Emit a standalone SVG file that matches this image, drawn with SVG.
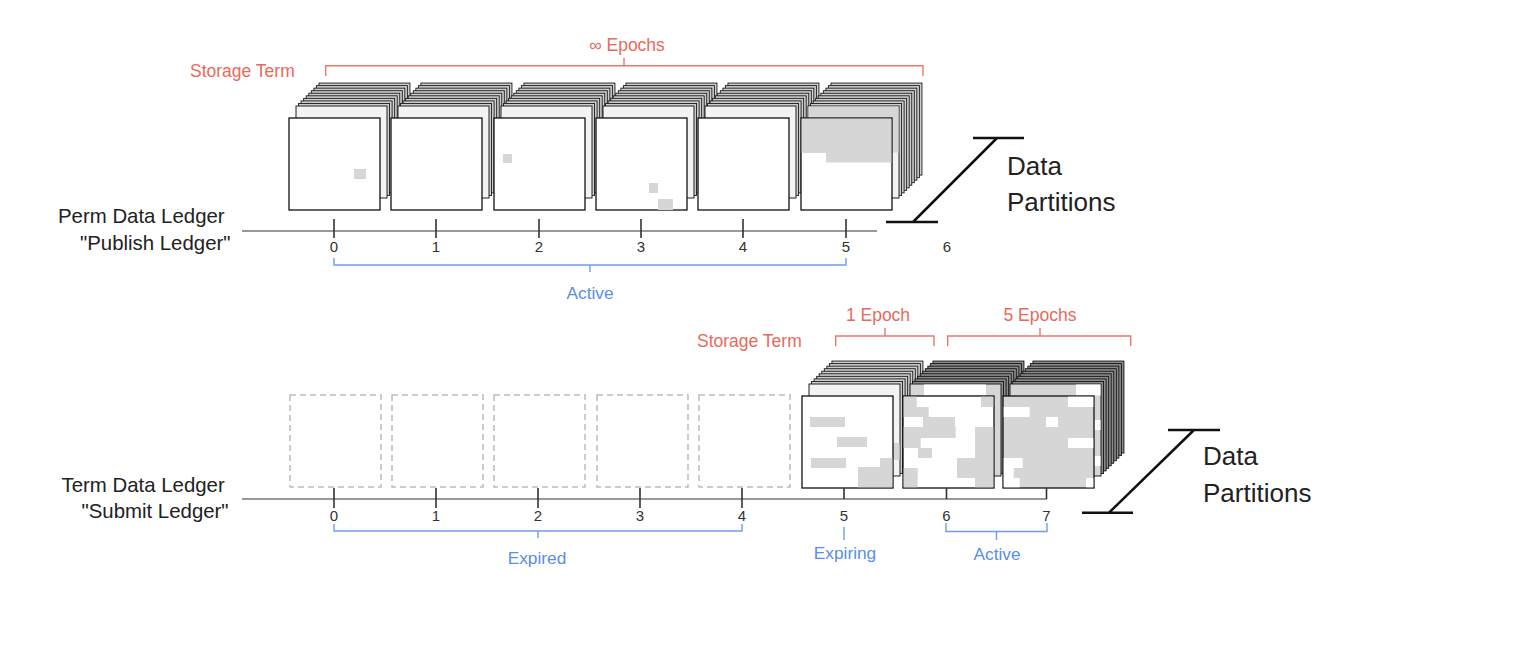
<svg xmlns="http://www.w3.org/2000/svg" xmlns:xlink="http://www.w3.org/1999/xlink" width="1530" height="656" viewBox="0 0 1530 656">
<style>
.t{font-family:"Liberation Sans",Arial,sans-serif}
.red{fill:#e8695d;font-size:17.5px}
.blue{fill:#5a8ee8;font-size:17.3px}
.blk{fill:#222}
.num{fill:#333;font-size:15px}
.brr{stroke:#ec776c;stroke-width:1.4;fill:none}
.brb{stroke:#6d9eeb;stroke-width:1.4;fill:none}
.front{fill:#fff;stroke:#111;stroke-width:1.3}
.sh{fill:#cdcdcd;stroke:#1a1a1a;stroke-width:0.9}
.shd{fill:#8c8c8c;stroke:#111;stroke-width:0.9}
.k0{fill:#f3f3f3;stroke:#222;stroke-width:1}
.g{fill:#d6d6d6}
.w{fill:#fff}
.dash{fill:none;stroke:#bcbcbc;stroke-width:1.5;stroke-dasharray:6 4}
.ax{stroke:#333;stroke-width:1.2;fill:none}
.tk{stroke:#333;stroke-width:1.6;fill:none}
.sym{stroke:#111;stroke-width:2.5;fill:none}
</style>
<defs>
<g id="stackL">
<rect class="sh" x="29.95" y="-34.95" width="91" height="92"/>
<rect class="sh" x="27.4" y="-32.4" width="91" height="92"/>
<rect class="sh" x="24.85" y="-29.85" width="91" height="92"/>
<rect class="sh" x="22.3" y="-27.3" width="91" height="92"/>
<rect class="sh" x="19.75" y="-24.75" width="91" height="92"/>
<rect class="sh" x="17.2" y="-22.2" width="91" height="92"/>
<rect class="sh" x="14.65" y="-19.65" width="91" height="92"/>
<rect class="sh" x="12.1" y="-17.1" width="91" height="92"/>
<rect class="sh" x="9.55" y="-14.55" width="91" height="92"/>
</g>
<g id="stackD">
<rect class="shd" x="29.95" y="-34.95" width="91" height="92"/>
<rect class="shd" x="27.4" y="-32.4" width="91" height="92"/>
<rect class="shd" x="24.85" y="-29.85" width="91" height="92"/>
<rect class="shd" x="22.3" y="-27.3" width="91" height="92"/>
<rect class="shd" x="19.75" y="-24.75" width="91" height="92"/>
<rect class="shd" x="17.2" y="-22.2" width="91" height="92"/>
<rect class="shd" x="14.65" y="-19.65" width="91" height="92"/>
<rect class="shd" x="12.1" y="-17.1" width="91" height="92"/>
<rect class="shd" x="9.55" y="-14.55" width="91" height="92"/>
</g>
</defs>

<!-- Top ledger partitions -->
<g id="p0">
<use xlink:href="#stackL" x="289" y="118"/>
<rect class="k0" x="296" y="106" width="91" height="92"/>
<rect class="front" x="289" y="118" width="91" height="92"/>
<rect class="g" x="354" y="169" width="12" height="10"/>
</g>
<g id="p1">
<use xlink:href="#stackL" x="391" y="118"/>
<rect class="k0" x="398" y="106" width="91" height="92"/>
<rect class="front" x="391" y="118" width="91" height="92"/>
</g>
<g id="p2">
<use xlink:href="#stackL" x="494" y="118"/>
<rect class="k0" x="501" y="106" width="91" height="92"/>
<rect class="front" x="494" y="118" width="91" height="92"/>
<rect class="g" x="503" y="154" width="9" height="9"/>
</g>
<g id="p3">
<use xlink:href="#stackL" x="596" y="118"/>
<rect class="k0" x="603" y="106" width="91" height="92"/>
<rect class="front" x="596" y="118" width="91" height="92"/>
<rect class="g" x="649" y="183" width="9" height="10"/>
<rect class="g" x="658" y="199" width="15" height="11"/>
</g>
<g id="p4">
<use xlink:href="#stackL" x="698" y="118"/>
<rect class="k0" x="705" y="106" width="91" height="92"/>
<rect class="front" x="698" y="118" width="91" height="92"/>
</g>
<g id="p5">
<use xlink:href="#stackL" x="801" y="118"/>
<rect class="k0" x="808" y="106" width="91" height="92"/>
<rect class="g" x="808.5" y="106.5" width="90" height="46"/>
<rect class="front" x="801" y="118" width="91" height="92"/>
<path class="g" d="M801.7 118.7 H891.3 V162.5 H826 V153 H801.7 Z"/>
</g>

<!-- Bottom ledger partitions -->
<g id="q0"><rect class="dash" x="290" y="395" width="91" height="92"/></g>
<g id="q1"><rect class="dash" x="392" y="395" width="91" height="92"/></g>
<g id="q2"><rect class="dash" x="494" y="395" width="91" height="92"/></g>
<g id="q3"><rect class="dash" x="597" y="395" width="91" height="92"/></g>
<g id="q4"><rect class="dash" x="699" y="395" width="91" height="92"/></g>
<g id="q5">
<use xlink:href="#stackL" x="802" y="396"/>
<rect class="k0" x="809" y="384" width="91" height="92"/>
<rect class="g" x="892.5" y="443" width="7" height="17"/>
<rect class="front" x="802" y="396" width="91" height="92"/>
<rect class="g" x="810" y="417" width="35" height="10"/>
<rect class="g" x="837" y="437" width="30" height="10"/>
<rect class="g" x="811" y="458" width="35" height="10"/>
<rect class="g" x="880" y="458" width="12.3" height="10"/>
<rect class="g" x="858" y="467" width="34.3" height="20.3"/>
</g>
<g id="q6">
<use xlink:href="#stackD" x="903" y="396"/>
<rect class="k0" x="910" y="384" width="91" height="92" style="fill:#d6d6d6"/>
<rect class="w" x="924" y="384.5" width="62" height="11"/>
<rect class="front" x="903" y="396" width="91" height="92"/>
<g class="g">
<rect x="903.7" y="396.7" width="13" height="10.3"/>
<rect x="981" y="396.7" width="12.3" height="10.3"/>
<rect x="903.7" y="407" width="25" height="10"/>
<rect x="923" y="417" width="32" height="10"/>
<rect x="903.7" y="427" width="52" height="11"/>
<rect x="975" y="427" width="18.3" height="31"/>
<rect x="903.7" y="438" width="17" height="10"/>
<rect x="918" y="448" width="14" height="10"/>
<rect x="957" y="458" width="36.3" height="20"/>
<rect x="903.7" y="468" width="14" height="19.3"/>
<rect x="975" y="478" width="18.3" height="9.3"/>
</g>
</g>
<g id="q7">
<use xlink:href="#stackD" x="1003" y="396"/>
<rect class="k0" x="1010" y="384" width="91" height="92" style="fill:#d6d6d6"/>
<rect class="w" x="1076" y="384.5" width="24.5" height="11"/>
<rect class="w" x="1094" y="420" width="6.5" height="10"/>
<rect class="w" x="1094" y="456" width="6.5" height="10"/>
<rect class="front" x="1003" y="396" width="91" height="92" style="fill:#d6d6d6"/>
<rect class="w" x="1068" y="396.7" width="25.3" height="10.3"/>
<rect class="w" x="1003.7" y="407" width="26" height="10"/>
<rect class="w" x="1046" y="417" width="12" height="10"/>
<rect class="w" x="1068" y="438" width="25.3" height="10"/>
<rect class="w" x="1003.7" y="458" width="19" height="10"/>
<rect class="w" x="1003.7" y="468" width="10" height="10"/>
<rect class="w" x="1003.7" y="478" width="16" height="9.3"/>
<rect class="w" x="1086" y="478" width="7.3" height="9.3"/>
</g>

<!-- Connectors: axes, ticks, brackets, symbols -->
<g id="connectors">
<line class="ax" x1="242" y1="231" x2="877" y2="231"/>
<path class="tk" d="M334 219V238M436 219V238M539 219V238M641 219V238M743 219V238M846 219V238"/>
<line class="ax" x1="242" y1="499" x2="1047" y2="499"/>
<path class="tk" d="M334 488V508M436 488V508M538 488V508M640 488V508M742 488V508M844 488V499M946.5 488V499M1046.5 488V499"/>
<path class="brr" d="M325.7 76V65.7H923V76M624 65.7V58"/>
<path class="brr" d="M835.7 346V336H934V346M885 336V328"/>
<path class="brr" d="M947.7 346V336H1130.7V346M1040 336V328"/>
<path class="brb" d="M334 258V265H846V258M590 265V272"/>
<path class="brb" d="M334 524V531H742V524M538 531V538"/>
<path class="brb" d="M844 527V540"/>
<path class="brb" d="M946 523V531.5H1047V523M996.5 531.5V540"/>
<path class="sym" d="M973 138H1024M886 222H938M997 138L913 222"/>
<path class="sym" d="M1168 430H1220M1082 512.7H1133M1194 430L1109 512.7"/>
</g>

<!-- Labels -->
<g class="t">
<text class="red" x="190" y="77">Storage Term</text>
<text class="red" x="627" y="51" text-anchor="middle">∞ Epochs</text>
<text class="red" x="697" y="347">Storage Term</text>
<text class="red" x="878" y="321" text-anchor="middle">1 Epoch</text>
<text class="red" x="1040" y="321" text-anchor="middle">5 Epochs</text>
<text class="blue" x="590" y="299" text-anchor="middle">Active</text>
<text class="blue" x="537" y="564" text-anchor="middle">Expired</text>
<text class="blue" x="845" y="559" text-anchor="middle">Expiring</text>
<text class="blue" x="997" y="560" text-anchor="middle">Active</text>
<text class="blk" x="58" y="223" font-size="20.4">Perm Data Ledger</text>
<text class="blk" x="80" y="250" font-size="20.4">"Publish Ledger"</text>
<text class="blk" x="61.5" y="492" font-size="20.4">Term Data Ledger</text>
<text class="blk" x="81.5" y="518" font-size="20.4">"Submit Ledger"</text>
<text class="blk" x="1007" y="175" font-size="26">Data</text>
<text class="blk" x="1007" y="211" font-size="26">Partitions</text>
<text class="blk" x="1203" y="465" font-size="26">Data</text>
<text class="blk" x="1203" y="502" font-size="26">Partitions</text>
<g class="num" text-anchor="middle">
<text x="334" y="252">0</text><text x="436" y="252">1</text><text x="539" y="252">2</text><text x="641" y="252">3</text><text x="743" y="252">4</text><text x="846" y="252">5</text><text x="947" y="252">6</text>
<text x="334" y="521">0</text><text x="436" y="521">1</text><text x="538" y="521">2</text><text x="640" y="521">3</text><text x="742" y="521">4</text><text x="844" y="521">5</text><text x="946.5" y="521">6</text><text x="1046.5" y="521">7</text>
</g>
</g>
</svg>
